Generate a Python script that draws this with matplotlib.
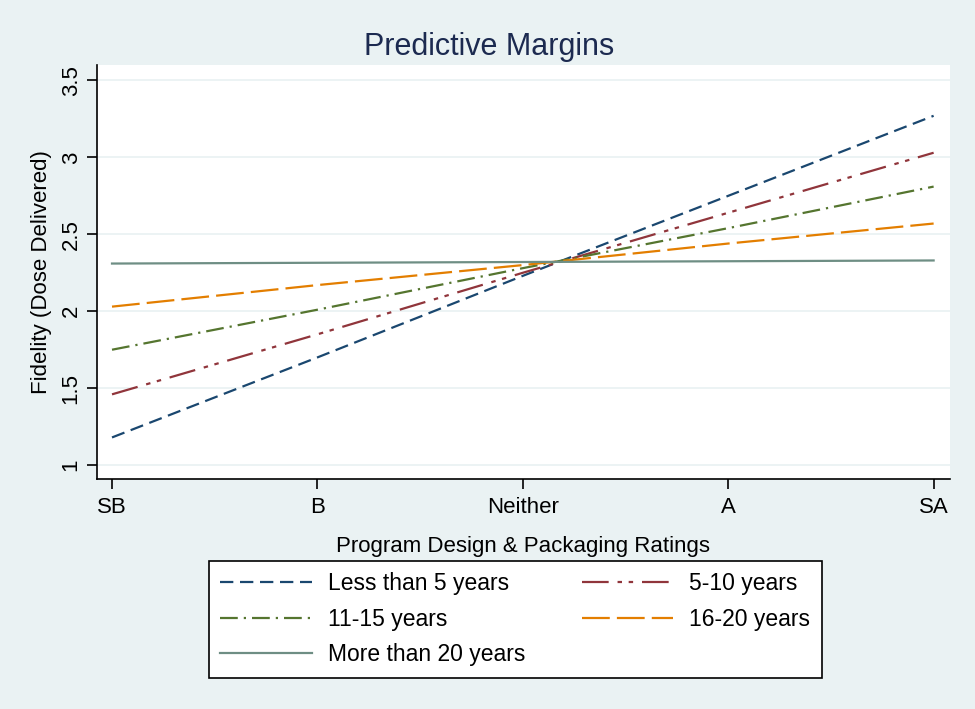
import numpy as np
import matplotlib
matplotlib.use("Agg")
import matplotlib.pyplot as plt

plt.rcParams['font.family'] = ['Liberation Sans', 'DejaVu Sans']

# ratings on the x axis
categories = ["SB", "B", "Neither", "A", "SA"]

# predicted fidelity per experience group
less_than_5 = [1.18, 1.70, 2.23, 2.75, 3.27]
years_5_10 = [1.46, 1.85, 2.25, 2.64, 3.03]
years_11_15 = [1.75, 2.01, 2.28, 2.54, 2.81]
years_16_20 = [2.03, 2.17, 2.30, 2.44, 2.57]
more_than_20 = [2.31, 2.315, 2.32, 2.325, 2.33]

series_labels = ["Less than 5 years", "5-10 years", "11-15 years",
                 "16-20 years", "More than 20 years"]
y_ticks = [1, 1.5, 2, 2.5, 3, 3.5]
y_tick_labels = ["1", "1.5", "2", "2.5", "3", "3.5"]

bg = "#eaf2f3"
styles = [
    ("#1a476f", (0, (6, 3))),
    ("#90353b", (0, (12, 4, 2, 3, 2, 4))),
    ("#55752f", (0, (8, 2.7, 1, 2.7))),
    ("#e37e00", (0, (12.5, 3.2))),
    ("#6e8e84", "-"),
]

fig = plt.figure(figsize=(9.75, 7.09), dpi=100, facecolor=bg)
ax = fig.add_axes([0.0995, 0.3244, 0.8745, 0.5839])
ax.set_facecolor("white")

x = np.arange(len(categories))
all_series = [less_than_5, years_5_10, years_11_15, years_16_20, more_than_20]
handles = []
for vals, lab, (col, ls) in zip(all_series, series_labels, styles):
    h, = ax.plot(x, vals, color=col, linestyle=ls, linewidth=1.6, label=lab)
    handles.append(h)

ax.set_xlim(-0.073, 4.078)
ax.set_ylim(0.91, 3.6)
ax.set_xticks(x)
ax.set_xticklabels(categories, fontsize=16)
ax.set_yticks(y_ticks)
ax.set_yticklabels(y_tick_labels, fontsize=16, rotation=90, va="center")
ax.tick_params(axis="both", direction="out", length=7, width=1.2, color="black")
ax.tick_params(axis="y", pad=4)
ax.tick_params(axis="x", pad=6)
ax.grid(axis="y", color=bg, linewidth=1.3)
ax.set_axisbelow(True)
for side in ["top", "right"]:
    ax.spines[side].set_visible(False)
for side in ["left", "bottom"]:
    ax.spines[side].set_linewidth(1.2)

ax.set_xlabel("Program Design & Packaging Ratings", fontsize=16, labelpad=13)
ax.set_ylabel("Fidelity (Dose Delivered)", fontsize=16, labelpad=6)
fig.text(0.502, 0.934, "Predictive Margins", ha="center", va="center",
         fontsize=22, color="#1c2a50")

# column-wise order so it reads row by row like the reference
order = [0, 2, 4, 1, 3]
leg = fig.legend([handles[i] for i in order], [series_labels[i] for i in order],
                 ncol=2, loc="upper left", bbox_to_anchor=(0.2144, 0.2087),
                 borderaxespad=0, frameon=True, fancybox=False, fontsize=16.5,
                 handlelength=4.0, columnspacing=2.45, handletextpad=0.7,
                 labelspacing=0.54, borderpad=0.5, framealpha=1.0)
leg.get_frame().set_edgecolor("black")
leg.get_frame().set_linewidth(1.2)
leg.get_frame().set_facecolor("white")

fig.savefig("out.png", dpi=100, facecolor=fig.get_facecolor())
